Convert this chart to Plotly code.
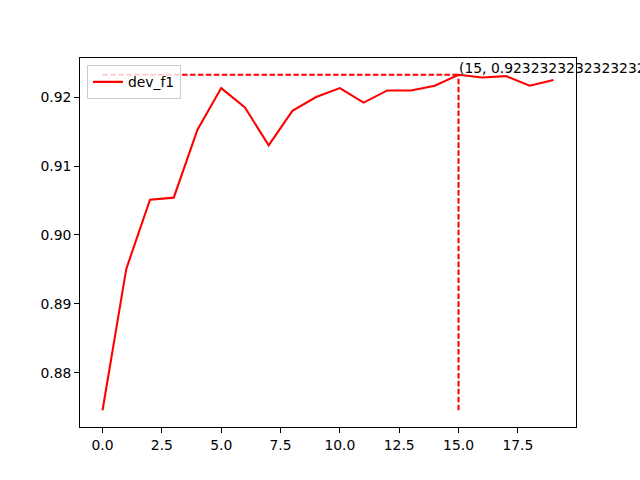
import plotly.graph_objects as go

epochs = list(range(20))
dev_f1 = [0.87458, 0.89507, 0.90512, 0.90541, 0.91526, 0.92130, 0.91849,
          0.91300, 0.91800, 0.92000, 0.92130, 0.91920, 0.92096, 0.92096,
          0.92164, 0.9232323232323232, 0.92284, 0.92304, 0.92164, 0.92246]

best_idx = max(range(len(dev_f1)), key=lambda i: dev_f1[i])
best_val = dev_f1[best_idx]
min_val = min(dev_f1)

font = dict(family="DejaVu Sans", size=13.9, color="black")
dash = "5.55px,2.4px"

fig = go.Figure()
fig.add_trace(go.Scatter(x=epochs, y=dev_f1, mode="lines", name="dev_f1",
                         line=dict(color="red", width=2.08)))
fig.add_trace(go.Scatter(x=[0, epochs[best_idx]], y=[best_val, best_val], mode="lines",
                         showlegend=False, line=dict(color="red", width=2.08, dash=dash)))
fig.add_trace(go.Scatter(x=[epochs[best_idx], epochs[best_idx]], y=[min_val, best_val], mode="lines",
                         showlegend=False, line=dict(color="red", width=2.08, dash=dash)))

fig.add_annotation(x=epochs[best_idx], y=best_val, xref="x", yref="y",
                   text=f"({epochs[best_idx]}, {best_val!r})", showarrow=False,
                   xanchor="left", yanchor="bottom", xshift=-2, yshift=-3,
                   font=font)

span = max(dev_f1) - min_val
fig.update_layout(
    width=640, height=480,
    margin=dict(l=80, r=64, t=57.6, b=52.8, autoexpand=False),
    plot_bgcolor="white", paper_bgcolor="white",
    font=font,
    showlegend=True,
    legend=dict(x=0.014, y=0.98, xanchor="left", yanchor="top",
                bgcolor="rgba(255,255,255,0.8)", bordercolor="#cccccc", borderwidth=1,
                font=font, itemwidth=30),
    xaxis=dict(range=[-0.95, 19.95], tickvals=[0, 2.5, 5, 7.5, 10, 12.5, 15, 17.5],
               ticktext=["0.0", "2.5", "5.0", "7.5", "10.0", "12.5", "15.0", "17.5"],
               showgrid=False, zeroline=False, showline=True, linecolor="black", linewidth=1,
               mirror=True, ticks="outside", ticklen=4.9, tickcolor="black"),
    yaxis=dict(range=[min_val - 0.05 * span, max(dev_f1) + 0.05 * span],
               tickvals=[0.88, 0.89, 0.90, 0.91, 0.92],
               ticktext=["0.88", "0.89", "0.90", "0.91", "0.92"],
               showgrid=False, zeroline=False, showline=True, linecolor="black", linewidth=1,
               mirror=True, ticks="outside", ticklen=4.9, tickcolor="black"),
)

fig.write_html("out.html", config={"displayModeBar": False},
               post_script="document.body.style.margin='0px';")
